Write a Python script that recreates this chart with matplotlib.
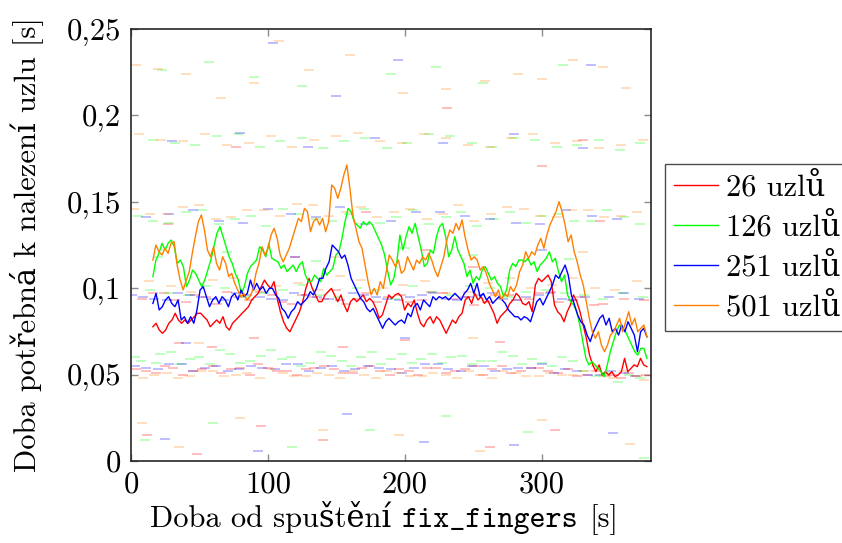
import numpy as np
import matplotlib.pyplot as plt
from matplotlib.offsetbox import TextArea, HPacker, AnnotationBbox

plt.rcParams['font.family'] = ['cmr10', 'DejaVu Serif']
plt.rcParams['mathtext.fontset'] = 'cm'
plt.rcParams['axes.unicode_minus'] = False

# klouzavy prumer doby nalezeni uzlu
red_y = [0.0777, 0.0797, 0.0758, 0.0739, 0.0758, 0.0797, 0.0816, 0.0855, 0.0816, 0.0797,
         0.0816, 0.0797, 0.0816, 0.0835, 0.0855, 0.0855, 0.0835, 0.0816, 0.0777, 0.0797,
         0.0816, 0.0797, 0.0835, 0.0777, 0.0758, 0.0797, 0.0816, 0.0835, 0.0855, 0.0874,
         0.0893, 0.0932, 0.0951, 0.0970, 0.1009, 0.1047,
         0.1019, 0.0999, 0.1038, 0.0941, 0.0864, 0.0806, 0.0768, 0.0748, 0.0787, 0.0826,
         0.0864, 0.0922, 0.0999, 0.1057, 0.0999, 0.0961, 0.0922, 0.0922, 0.0961, 0.0980,
         0.0999, 0.0961, 0.0922, 0.0961, 0.0903, 0.0864, 0.0922, 0.0941, 0.0922, 0.0941,
         0.0961, 0.0922, 0.0941, 0.0922, 0.0883, 0.0826, 0.0845, 0.0903, 0.0961, 0.0941, 0.0961,
         0.0970, 0.0951, 0.0874, 0.0912, 0.0893, 0.0932, 0.0855, 0.0797, 0.0777, 0.0816,
         0.0835, 0.0797, 0.0835, 0.0816, 0.0777, 0.0739, 0.0777, 0.0816, 0.0797, 0.0835,
         0.0855, 0.0932, 0.0951, 0.0912, 0.0970, 0.0932, 0.0951, 0.0912, 0.0932, 0.0893,
         0.0855, 0.0797, 0.0835, 0.0855, 0.0874, 0.0912, 0.0932, 0.0970, 0.0951, 0.0912,
         0.0903, 0.0922, 0.0864, 0.1019, 0.1057, 0.1038, 0.1057, 0.1076, 0.1038, 0.0903,
         0.0864, 0.0845, 0.0806, 0.0864, 0.0903, 0.0961, 0.0922, 0.0864, 0.0787, 0.0710,
         0.0613, 0.0556, 0.0517, 0.0556, 0.0498, 0.0517, 0.0498, 0.0517, 0.0488, 0.0498,
         0.0517, 0.0594, 0.0517, 0.0536, 0.0556, 0.0546, 0.0594, 0.0556, 0.0546]

green_y = [0.1067, 0.1163, 0.1202, 0.1260, 0.1221, 0.1260, 0.1279, 0.1240, 0.1144, 0.1163,
           0.1125, 0.1009, 0.1047, 0.1105, 0.1086, 0.1047, 0.1009, 0.1047, 0.1105, 0.1163,
           0.1240, 0.1318, 0.1356, 0.1298, 0.1240, 0.1182, 0.1144, 0.1086, 0.1047, 0.0970,
           0.1009, 0.1086, 0.1125, 0.1144, 0.1163, 0.1240, 0.1221, 0.1182, 0.1260,
           0.1173, 0.1163, 0.1153, 0.1115, 0.1134, 0.1096, 0.1115, 0.1134, 0.1096, 0.1134,
           0.1153, 0.1076, 0.1038, 0.1038, 0.1076, 0.1057, 0.1038, 0.1115, 0.1076, 0.1096,
           0.1115, 0.1192, 0.1211, 0.1289, 0.1385, 0.1462, 0.1443, 0.1385, 0.1366, 0.1347,
           0.1385, 0.1366, 0.1385, 0.1366, 0.1327, 0.1289, 0.1250, 0.1192, 0.1096, 0.1019,
           0.1057, 0.1153, 0.1308,
           0.1221, 0.1298, 0.1356, 0.1318, 0.1375, 0.1298, 0.1221, 0.1125, 0.1144, 0.1221,
           0.1202, 0.1298, 0.1356, 0.1375, 0.1298, 0.1182, 0.1221, 0.1298, 0.1221, 0.1182,
           0.1144, 0.1067, 0.1105, 0.1028, 0.1067, 0.1047, 0.1105, 0.1125, 0.1086, 0.1047,
           0.1067, 0.1028, 0.1009, 0.0951, 0.0990, 0.1105, 0.1144, 0.1125, 0.1163, 0.1163,
           0.1153, 0.1173, 0.1134, 0.1153, 0.1096, 0.1134, 0.1153, 0.1173, 0.1211, 0.1153,
           0.1173, 0.1096, 0.1038, 0.1076, 0.0961, 0.0922, 0.0903, 0.0864, 0.0787, 0.0691,
           0.0594, 0.0556, 0.0575, 0.0556, 0.0536, 0.0517, 0.0488, 0.0556, 0.0633, 0.0691,
           0.0748, 0.0787, 0.0768, 0.0748, 0.0710, 0.0671, 0.0633, 0.0613, 0.0652, 0.0652, 0.0594]

blue_y = [0.0912, 0.0970, 0.0874, 0.0893, 0.0932, 0.0951, 0.0912, 0.0893, 0.0932, 0.0816,
          0.0835, 0.0797, 0.0835, 0.0797, 0.0874, 0.0990, 0.1009, 0.0951, 0.0893, 0.0932,
          0.0951, 0.0912, 0.0951, 0.0932, 0.0893, 0.0951, 0.0970, 0.0932, 0.0990, 0.0951,
          0.0970, 0.1047, 0.0990, 0.1028, 0.0990, 0.1009, 0.0970,
          0.0999, 0.0999, 0.0961, 0.0941, 0.0883, 0.0864, 0.0826, 0.0864, 0.0883, 0.0922,
          0.0903, 0.0922, 0.0941, 0.0980, 0.0961, 0.0999, 0.1057, 0.1057, 0.1115, 0.1153,
          0.1250, 0.1231, 0.1211, 0.1173, 0.1192, 0.1134, 0.1057, 0.1019, 0.0980, 0.0941,
          0.0922, 0.0883, 0.0864, 0.0883, 0.0845, 0.0806, 0.0768, 0.0806, 0.0826, 0.0806,
          0.0787, 0.0806,
          0.0816, 0.0797, 0.0855, 0.0835, 0.0893, 0.0912, 0.0874, 0.0932, 0.0912, 0.0893,
          0.0951, 0.0932, 0.0951, 0.0941, 0.0951, 0.0932, 0.0951, 0.0970, 0.0951, 0.0932,
          0.0970, 0.0990, 0.1028, 0.0970, 0.1028, 0.0951, 0.0970, 0.0932, 0.0951, 0.0912,
          0.0932, 0.0951, 0.0932, 0.0912, 0.0874, 0.0855, 0.0835, 0.0835, 0.0816, 0.0835,
          0.0826, 0.0806, 0.0864, 0.0922, 0.0941, 0.0903, 0.0941, 0.0980, 0.1019, 0.1076,
          0.1057, 0.1096, 0.1134, 0.1076, 0.0961, 0.0903, 0.0845, 0.0806, 0.0787, 0.0729,
          0.0691, 0.0748, 0.0787, 0.0826, 0.0845, 0.0787, 0.0826, 0.0748, 0.0768, 0.0729,
          0.0787, 0.0748, 0.0806, 0.0768, 0.0729, 0.0633, 0.0748, 0.0768, 0.0719]

orange_y = [0.1163, 0.1250, 0.1211, 0.1192, 0.1231, 0.1202, 0.1260, 0.1269, 0.1134, 0.1047,
            0.0990, 0.1047, 0.1096, 0.1202, 0.1298, 0.1385, 0.1424, 0.1337, 0.1221, 0.1182,
            0.1240, 0.1144, 0.1105, 0.1182, 0.1144, 0.1067, 0.1086, 0.1028, 0.0990, 0.0951,
            0.0970, 0.0932, 0.0951, 0.0990, 0.1086, 0.1144, 0.1240,
            0.1192, 0.1231, 0.1308, 0.1347, 0.1289, 0.1192, 0.1153, 0.1192, 0.1231, 0.1289,
            0.1347, 0.1404, 0.1385, 0.1462, 0.1443, 0.1327, 0.1385, 0.1404, 0.1366, 0.1404,
            0.1327, 0.1385, 0.1597, 0.1578, 0.1520, 0.1578, 0.1655, 0.1713, 0.1578, 0.1424,
            0.1347, 0.1269, 0.1231, 0.1134, 0.1038, 0.0961, 0.0999, 0.0961, 0.1038, 0.0999,
            0.1096, 0.1192,
            0.1163, 0.1125, 0.1163, 0.1086, 0.1105, 0.1182, 0.1144, 0.1105, 0.1163, 0.1144,
            0.1182, 0.1163, 0.1202, 0.1163, 0.1105, 0.1067, 0.1125, 0.1182, 0.1279, 0.1337,
            0.1318, 0.1375, 0.1337, 0.1395, 0.1298, 0.1221, 0.1163, 0.1182, 0.1163, 0.1105,
            0.1125, 0.1086, 0.1028, 0.0990, 0.0951, 0.0990, 0.0932, 0.0970, 0.0951, 0.1009,
            0.0980, 0.1019, 0.1096, 0.1134, 0.1211, 0.1173, 0.1211, 0.1192, 0.1250, 0.1289,
            0.1231, 0.1308, 0.1366, 0.1404, 0.1443, 0.1501, 0.1443, 0.1366, 0.1269, 0.1308,
            0.1211, 0.1153, 0.1076, 0.1019, 0.0922, 0.0826, 0.0748, 0.0710, 0.0748, 0.0671,
            0.0633, 0.0671, 0.0729, 0.0748, 0.0787, 0.0826, 0.0748, 0.0806, 0.0864, 0.0787,
            0.0826, 0.0748, 0.0768, 0.0787, 0.0719]

# jednotlive namerene hodnoty (carky)
red_pts_x = [4, 18, 31, 45, 60, 73, 87, 100, 114, 128, 141, 155, 169, 182, 196, 210, 223, 237,
             251, 264, 278, 292, 305, 319, 333, 347, 352, 358, 364, 370, 376,
             11, 25, 38, 52, 66, 80, 93, 107, 121, 134, 148, 162, 175, 189, 203, 216, 230, 244,
             257, 271, 285, 298, 312, 326, 340,
             8, 24, 40, 55, 70, 86, 103, 118, 133, 150, 165, 180, 197, 213, 228, 244, 260,
             276, 291, 307, 322, 338,
             16, 32, 47, 63, 78, 94, 110, 125, 141, 157, 172, 188, 204, 219, 235, 251, 266,
             282, 298, 313, 329, 345, 360, 375,
             12, 48, 95, 140, 200, 262, 310, 27, 77, 172, 231, 300, 59, 343, 120, 250,
             35, 90, 155, 215, 270, 330]
red_pts_y = [0.053, 0.051, 0.054, 0.052, 0.055, 0.053, 0.050, 0.054, 0.052, 0.053, 0.055, 0.051,
             0.054, 0.052, 0.053, 0.050, 0.054, 0.052, 0.055, 0.053, 0.051, 0.054, 0.052, 0.053,
             0.050, 0.049, 0.050, 0.048, 0.051, 0.049, 0.050,
             0.052, 0.055, 0.050, 0.053, 0.051, 0.054, 0.056, 0.052, 0.050, 0.054, 0.053, 0.051,
             0.055, 0.050, 0.052, 0.054, 0.051, 0.053, 0.050, 0.055, 0.052, 0.054, 0.051, 0.049,
             0.052,
             0.094, 0.097, 0.092, 0.095, 0.098, 0.093, 0.096, 0.091, 0.095, 0.099, 0.094, 0.092,
             0.096, 0.093, 0.097, 0.095, 0.092, 0.096, 0.094, 0.098, 0.093, 0.090,
             0.097, 0.093, 0.096, 0.091, 0.095, 0.098, 0.092, 0.096, 0.094, 0.091, 0.097, 0.095,
             0.092, 0.098, 0.094, 0.090, 0.096, 0.093, 0.097, 0.092, 0.095, 0.091, 0.094, 0.093,
             0.015, 0.004, 0.020, 0.012, 0.070, 0.008, 0.018, 0.137, 0.182, 0.144, 0.204, 0.171,
             0.066, 0.139, 0.118, 0.112,
             0.068, 0.071, 0.066, 0.122, 0.069, 0.186]

green_pts_x = [7, 21, 36, 50, 65, 80, 95, 110, 124, 139, 154, 168, 183, 198, 212, 227, 242, 256,
               271, 286, 300, 315, 330, 340, 348, 356, 364, 372,
               3, 18, 29, 43, 58, 72, 87, 102, 117, 131, 146, 161, 176, 190, 205, 220, 234, 249,
               264, 279, 293, 308, 323,
               14, 42, 69, 97, 126, 151, 179, 206, 234, 262, 289, 317, 345, 374,
               28, 55, 83, 111, 138, 165, 193, 220, 248, 276, 303, 331, 359,
               20, 70, 135, 200, 250, 320,
               5, 28, 52, 76, 99, 123, 147, 170, 194, 218, 241, 265, 289, 312, 336, 360,
               16, 40, 64, 88, 111, 135, 159, 182, 206, 230, 253, 277, 300, 324, 348, 372,
               16, 47, 78, 109, 140, 171, 202, 233, 264, 295, 326, 357,
               32, 63, 94, 125, 156, 187, 218, 249, 280, 311, 342, 372,
               23, 57, 90, 125, 190, 223, 257, 316,
               10, 60, 118, 175, 230, 290, 375]
green_pts_y = [0.058, 0.062, 0.056, 0.060, 0.064, 0.057, 0.061, 0.059, 0.055, 0.063, 0.058, 0.060,
               0.056, 0.062, 0.059, 0.057, 0.061, 0.058, 0.063, 0.056, 0.057, 0.060, 0.052, 0.049,
               0.051, 0.046, 0.050, 0.048,
               0.060, 0.057, 0.063, 0.059, 0.056, 0.062, 0.058, 0.064, 0.060, 0.057, 0.061, 0.055,
               0.063, 0.059, 0.057, 0.062, 0.060, 0.056, 0.058, 0.061, 0.059, 0.055, 0.058,
               0.099, 0.096, 0.100, 0.097, 0.102, 0.095, 0.099, 0.101, 0.096, 0.100, 0.098, 0.097,
               0.094, 0.095,
               0.097, 0.101, 0.095, 0.099, 0.096, 0.100, 0.094, 0.098, 0.101, 0.095, 0.099, 0.096,
               0.097,
               0.118, 0.121, 0.116, 0.123, 0.119, 0.117,
               0.142, 0.138, 0.145, 0.140, 0.136, 0.143, 0.139, 0.146, 0.141, 0.137, 0.144, 0.140,
               0.138, 0.143, 0.139, 0.141,
               0.139, 0.144, 0.137, 0.142, 0.146, 0.140, 0.143, 0.138, 0.145, 0.141, 0.136, 0.144,
               0.142, 0.139, 0.145, 0.137,
               0.186, 0.183, 0.189, 0.185, 0.181, 0.187, 0.184, 0.188, 0.182, 0.186, 0.183, 0.180,
               0.184, 0.188, 0.182, 0.187, 0.185, 0.181, 0.189, 0.184, 0.187, 0.182, 0.186, 0.184,
               0.226, 0.231, 0.222, 0.217, 0.224, 0.228, 0.219, 0.229,
               0.012, 0.022, 0.008, 0.018, 0.026, 0.017, 0.002]

blue_pts_x = [3, 20, 37, 54, 71, 88, 105, 122, 139, 156, 173, 190, 207, 224, 241, 258, 275, 292,
              309, 326, 343, 360,
              11, 28, 45, 62, 79, 96, 113, 130, 147, 164, 181, 198, 215, 232, 249, 266, 283, 300,
              317, 334, 351, 368,
              1, 17, 34, 51, 68, 85, 102, 119, 136, 153, 170, 187, 204, 221, 238, 255, 272, 289,
              306, 323, 349, 371,
              9, 26, 43, 60, 77, 94, 111, 128, 145, 162, 179, 196, 213, 230, 247, 264, 281, 298,
              315, 332, 360,
              11, 45, 82, 117, 153, 190, 226, 262, 299, 337,
              28, 64, 100, 135, 171, 208, 244, 281, 318, 355,
              30, 80, 129, 178, 228, 280, 330,
              104, 150, 195, 336,
              40, 120, 200, 300,
              25, 93, 158, 214, 280, 352]
blue_pts_y = [0.055, 0.053, 0.056, 0.054, 0.052, 0.055, 0.053, 0.056, 0.054, 0.052, 0.055, 0.053,
              0.054, 0.056, 0.052, 0.055, 0.053, 0.054, 0.051, 0.052, 0.050, 0.051,
              0.054, 0.056, 0.052, 0.055, 0.053, 0.054, 0.056, 0.052, 0.055, 0.053, 0.054, 0.051,
              0.056, 0.053, 0.055, 0.052, 0.054, 0.056, 0.053, 0.050, 0.052, 0.049,
              0.096, 0.094, 0.097, 0.095, 0.093, 0.096, 0.094, 0.097, 0.095, 0.093, 0.096, 0.094,
              0.095, 0.097, 0.093, 0.096, 0.094, 0.095, 0.097, 0.093, 0.095, 0.094,
              0.095, 0.093, 0.096, 0.094, 0.097, 0.095, 0.093, 0.096, 0.094, 0.097, 0.095, 0.093,
              0.096, 0.094, 0.095, 0.097, 0.093, 0.096, 0.094, 0.095, 0.097,
              0.141, 0.145, 0.138, 0.143, 0.147, 0.139, 0.144, 0.140, 0.137, 0.142,
              0.143, 0.139, 0.146, 0.141, 0.137, 0.144, 0.142, 0.138, 0.145, 0.140,
              0.185, 0.190, 0.182, 0.187, 0.184, 0.189, 0.181,
              0.242, 0.211, 0.232, 0.229,
              0.068, 0.118, 0.071, 0.122,
              0.013, 0.006, 0.027, 0.011, 0.009, 0.016]

orange_pts_x = [9, 26, 43, 60, 77, 94, 111, 128, 145, 162, 179, 196, 213, 230, 247, 264, 281, 298,
                315, 332, 340, 346, 352, 360, 368, 375,
                17, 34, 51, 68, 85, 102, 119, 136, 153, 170, 187, 204, 221, 238, 255, 272, 289,
                306, 323,
                13, 44, 75, 106, 137, 168, 199, 230, 261, 292, 323, 354,
                29, 60, 91, 122, 153, 184, 215, 246, 277, 308, 339, 370,
                2, 26, 50, 73, 97, 121, 145, 168, 192, 216, 239, 263, 287, 311, 334, 358,
                14, 38, 62, 85, 109, 133, 157, 180, 204, 228, 251, 275, 299, 322, 346, 370,
                6, 38, 70, 102, 134, 166, 198, 230, 262, 294, 326, 358,
                22, 54, 86, 118, 150, 182, 214, 246, 278, 310, 342, 374,
                4, 40, 66, 108, 160, 199, 259, 283, 323, 362,
                20, 90, 130, 230, 300, 345,
                50, 150, 250, 330,
                8, 35, 80, 140, 196, 255, 300, 365]
orange_pts_y = [0.048, 0.051, 0.049, 0.052, 0.050, 0.048, 0.051, 0.049, 0.050, 0.052, 0.048, 0.051,
                0.049, 0.050, 0.052, 0.048, 0.051, 0.049, 0.050, 0.052, 0.055, 0.050, 0.048, 0.052,
                0.049, 0.047,
                0.050, 0.048, 0.052, 0.049, 0.051, 0.053, 0.049, 0.051, 0.048, 0.050, 0.052, 0.049,
                0.051, 0.048, 0.050, 0.052, 0.049, 0.051, 0.050,
                0.104, 0.098, 0.106, 0.101, 0.099, 0.105, 0.102, 0.097, 0.103, 0.100, 0.106, 0.099,
                0.101, 0.105, 0.099, 0.103, 0.107, 0.100, 0.104, 0.098, 0.106, 0.102, 0.100, 0.104,
                0.146, 0.143, 0.148, 0.141, 0.145, 0.149, 0.142, 0.147, 0.144, 0.140, 0.148, 0.143,
                0.146, 0.141, 0.145, 0.142,
                0.143, 0.147, 0.140, 0.145, 0.142, 0.148, 0.144, 0.141, 0.146, 0.143, 0.139, 0.147,
                0.142, 0.145, 0.141, 0.144,
                0.189, 0.185, 0.183, 0.188, 0.186, 0.190, 0.184, 0.187, 0.182, 0.189, 0.185, 0.183,
                0.186, 0.189, 0.184, 0.182, 0.188, 0.185, 0.189, 0.183, 0.187, 0.184, 0.181, 0.186,
                0.229, 0.224, 0.210, 0.243, 0.235, 0.213, 0.220, 0.224, 0.232, 0.216,
                0.227, 0.219, 0.226, 0.215, 0.221, 0.228,
                0.068, 0.118, 0.071, 0.121,
                0.022, 0.008, 0.025, 0.018, 0.015, 0.006, 0.024, 0.010]

labels = ['26 uzlů', '126 uzlů', '251 uzlů', '501 uzlů']
colors = ['#ff0000', '#00ff00', '#0000ff', '#ff8000']
y_ticks = [0, 0.05, 0.1, 0.15, 0.2, 0.25]
y_tick_labels = ['0', '0,05', '0,1', '0,15', '0,2', '0,25']
x_ticks = [0, 100, 200, 300]

series = [(red_y, red_pts_x, red_pts_y), (green_y, green_pts_x, green_pts_y),
          (blue_y, blue_pts_x, blue_pts_y), (orange_y, orange_pts_x, orange_pts_y)]

serif = ['cmr10', 'DejaVu Serif']
mono = ['cmtt10', 'DejaVu Sans Mono']
fs = 22

fig = plt.figure(figsize=(8.42, 5.43), dpi=100)
ax = fig.add_axes([131/842, 1 - 461/543, 520/842, 432/543])

for (ly, px, py), c in zip(series, colors):
    ax.plot(px, py, ls='none', marker='_', ms=6.5, mew=1.2, color=c, alpha=0.3)

for (ly, px, py), c, lab in zip(series, colors, labels):
    lx = np.linspace(16, 377, len(ly))
    ax.plot(lx, ly, color=c, lw=1.0, label=lab)

ax.set_xlim(0, 380)
ax.set_ylim(0, 0.25)
ax.set_xticks(x_ticks)
ax.set_xticklabels([str(t) for t in x_ticks])
ax.set_yticks(y_ticks)
ax.set_yticklabels(y_tick_labels)
ax.tick_params(direction='in', length=5, width=1, color='0.55', labelsize=fs,
               top=True, right=True, pad=7)
for s in ax.spines.values():
    s.set_linewidth(1.2)
    s.set_color('0.15')

# popisek osy x slozeny z patkoveho a strojoveho pisma
parts = [TextArea('Doba od spuštění', textprops=dict(fontsize=fs, family=serif)),
         TextArea('fix_fingers', textprops=dict(fontsize=fs, family=mono)),
         TextArea('[s]', textprops=dict(fontsize=fs, family=serif))]
xlab = HPacker(children=parts, align='baseline', pad=0, sep=8)
ab = AnnotationBbox(xlab, (0.487, -0.093), xycoords='axes fraction', box_alignment=(0.5, 1),
                    frameon=False, annotation_clip=False)
ax.add_artist(ab)

ax.set_ylabel('Doba potřebná k nalezení uzlu [s]', fontsize=fs)
ax.yaxis.set_label_coords(-0.17, 0.5)

leg = ax.legend(loc='upper left', bbox_to_anchor=(665/842, 1 - 164/543),
                bbox_transform=fig.transFigure, fontsize=fs, fancybox=False,
                edgecolor='0.3', framealpha=1, handlelength=1.45, handletextpad=0.25,
                labelspacing=0.38, borderpad=0.3, borderaxespad=0)
leg.get_frame().set_linewidth(1.0)

fig.savefig('out.png', dpi=100)
